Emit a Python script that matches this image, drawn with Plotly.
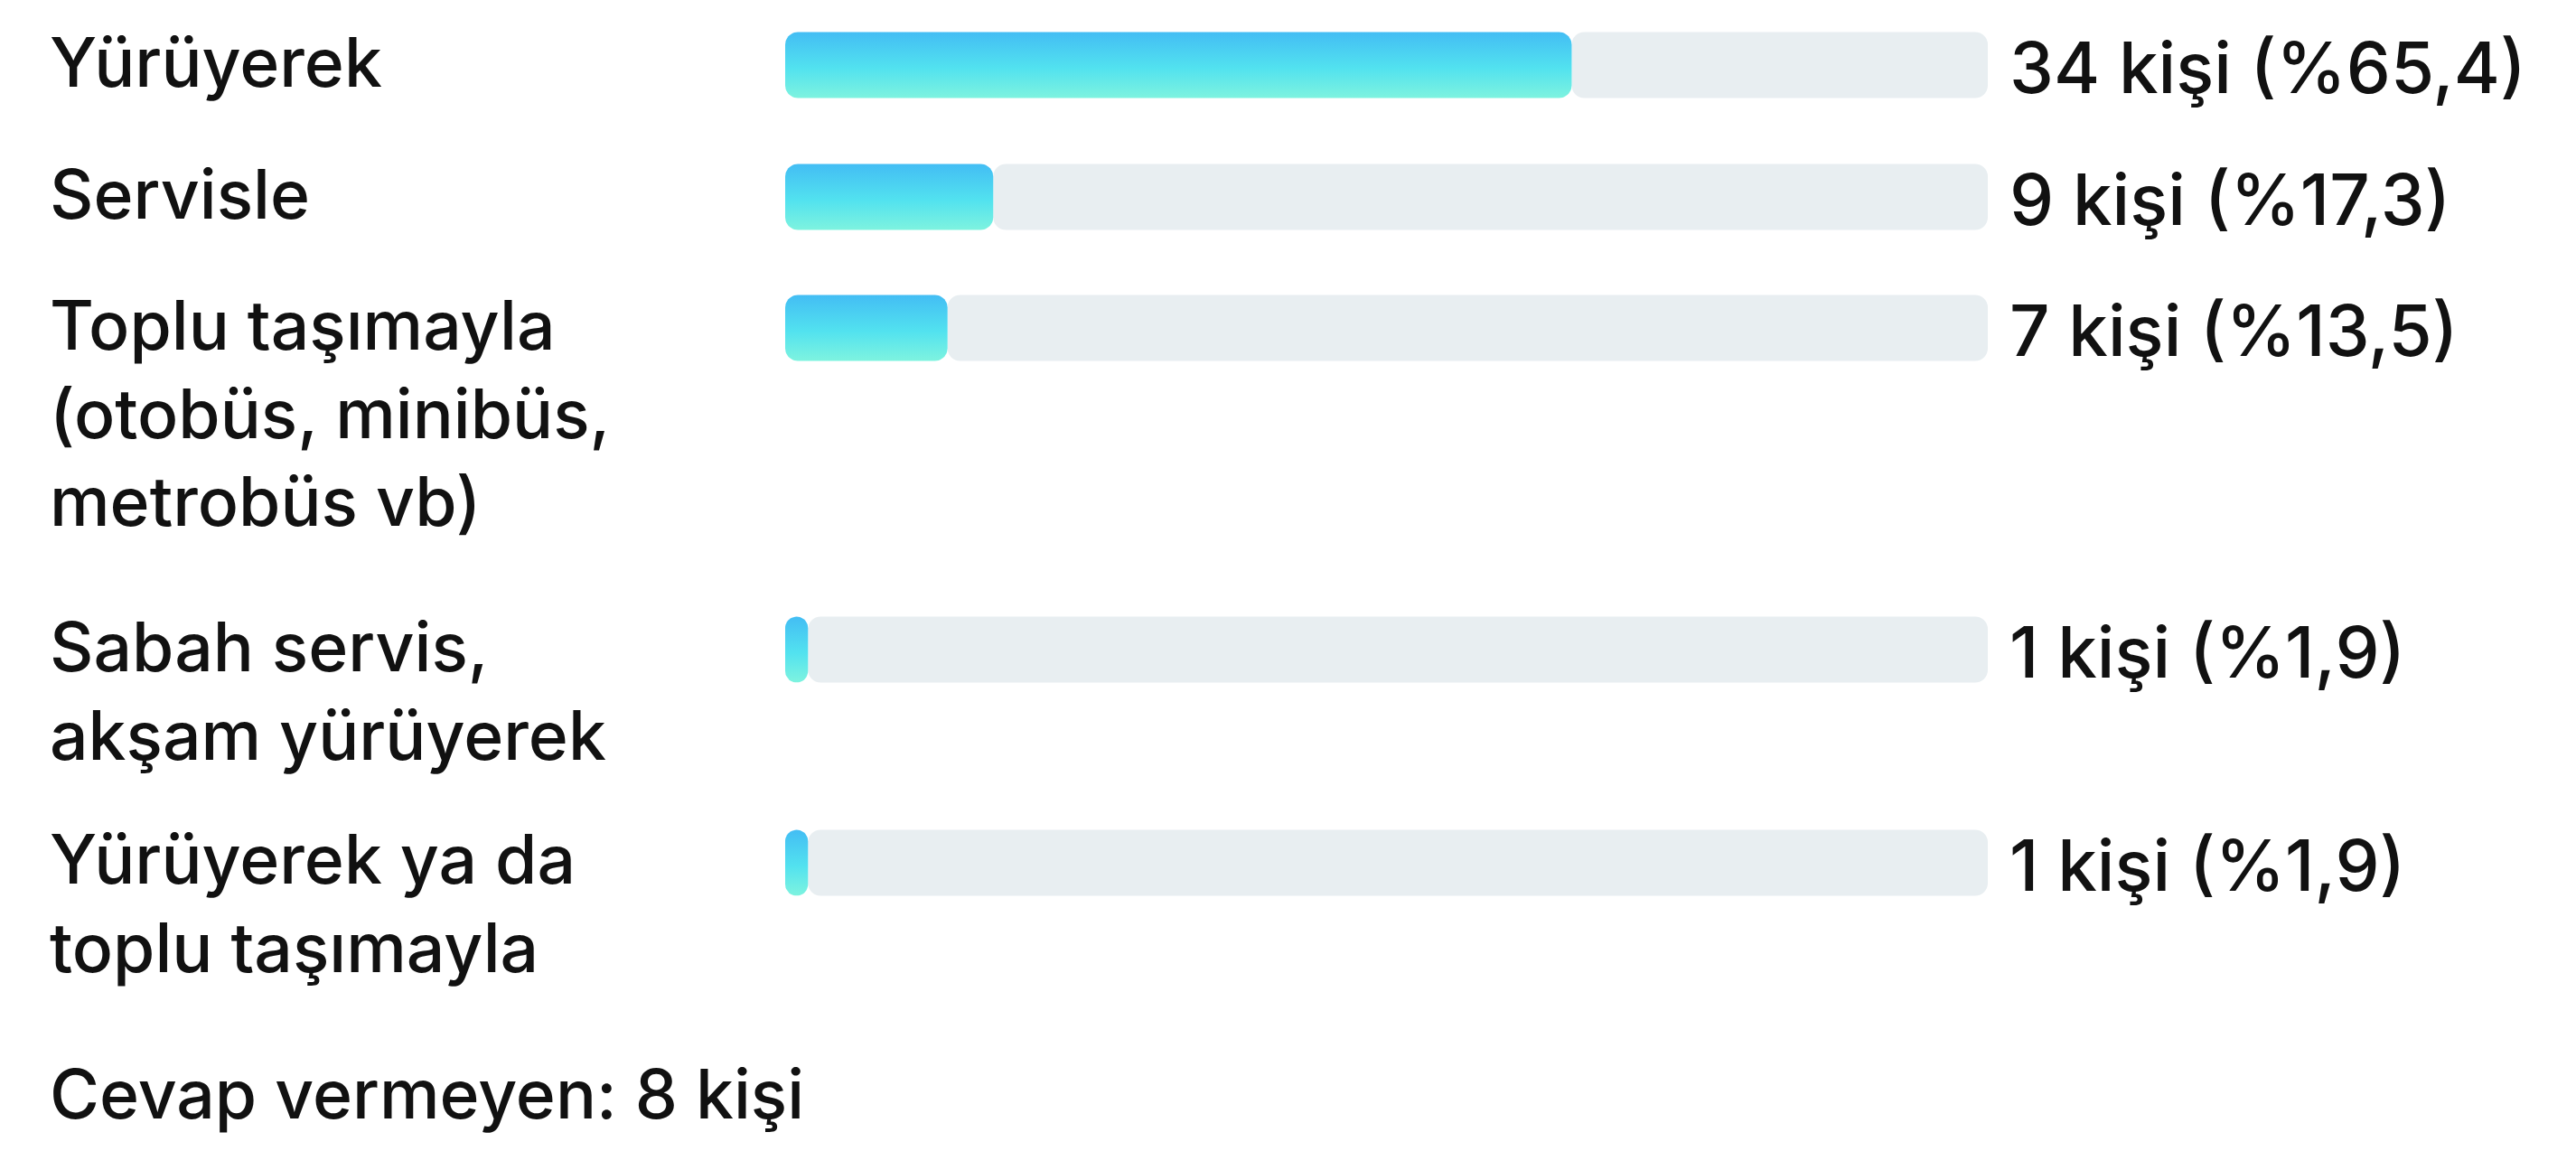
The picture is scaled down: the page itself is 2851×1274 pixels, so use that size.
import numpy as np
import plotly.graph_objects as go

# Survey answers: how respondents travel
categories = [
    "Yürüyerek",
    "Servisle",
    "Toplu taşımayla<br>(otobüs, minibüs,<br>metrobüs vb)",
    "Sabah servis,<br>akşam yürüyerek",
    "Yürüyerek ya da<br>toplu taşımayla",
]
counts = [34, 9, 7, 1, 1]
percents = [65.4, 17.3, 13.5, 1.9, 1.9]
no_answer = 8

# ---- layout constants (pixels) ----
W, H = 2851, 1274
PLOT_L, PLOT_R = 869, 2200          # x: 0..100 %
X_SCALE = (PLOT_R - PLOT_L) / 100.0  # px per percent
row_center_px = [72, 218, 363, 719, 955]
BAR_H = 73
RADIUS = 14
LABEL_X_PX = 53
VALUE_X_PX = 2222
FONT = "Inter"
TEXT_COLOR = "#111111"
TRACK_COLOR = "#E8EEF1"


def xpaper(px):
    return (px - PLOT_L) / (PLOT_R - PLOT_L)


def ypaper(px):
    return (H - px) / H


def ydata(px):
    return H - px


def rounded_rect(x1, yc, h, r_px):
    """Closed outline of a rounded bar from 0 to x1 (percent), centred on yc."""
    w_px = x1 * X_SCALE
    r = min(r_px, w_px / 2.0, h / 2.0)
    rx = r / X_SCALE
    ry = r
    top, bot = yc + h / 2.0, yc - h / 2.0
    xs, ys = [], []
    n = 12
    corners = [
        (x1 - rx, top - ry, 0.0, np.pi / 2),          # top-right
        (rx, top - ry, np.pi / 2, np.pi),             # top-left
        (rx, bot + ry, np.pi, 1.5 * np.pi),           # bottom-left
        (x1 - rx, bot + ry, 1.5 * np.pi, 2 * np.pi),  # bottom-right
    ]
    for cx, cy, a0, a1 in corners:
        t = np.linspace(a0, a1, n)
        xs.extend(cx + rx * np.cos(t))
        ys.extend(cy + ry * np.sin(t))
    xs.append(xs[0])
    ys.append(ys[0])
    return xs, ys


fig = go.Figure()

centers = [ydata(c) for c in row_center_px]

# grey remainder of each bar
fig.add_trace(go.Bar(
    orientation="h",
    y=centers,
    x=[100 - p for p in percents],
    base=percents,
    width=BAR_H,
    marker=dict(color=TRACK_COLOR, cornerradius=RADIUS, line=dict(width=0)),
    hoverinfo="skip",
    showlegend=False,
))

# gradient-filled value bars
for p, yc in zip(percents, centers):
    xs, ys = rounded_rect(p, yc, BAR_H, RADIUS)
    fig.add_trace(go.Scatter(
        x=xs, y=ys,
        mode="lines",
        line=dict(width=0, color="rgba(0,0,0,0)"),
        fill="toself",
        fillgradient=dict(
            type="vertical",
            start=yc - BAR_H / 2.0,
            stop=yc + BAR_H / 2.0,
            colorscale=[[0, "#7EF3DF"], [0.45, "#52E2EF"], [1, "#43BDF4"]],
        ),
        hoverinfo="skip",
        showlegend=False,
    ))

label_font = dict(family=FONT, size=75, color=TEXT_COLOR, weight=500)
value_font = dict(family=FONT, size=78, color=TEXT_COLOR, weight=500)

annotations = []
for cat, c, p, ypx in zip(categories, counts, percents, row_center_px):
    bar_top = ypx - BAR_H / 2.0
    annotations.append(dict(
        x=xpaper(LABEL_X_PX), y=ypaper(bar_top - 15),
        xref="paper", yref="paper", xanchor="left", yanchor="top",
        text=cat, showarrow=False, align="left",
        font=label_font,
    ))
    value_text = f"{c} kişi (%{p:.1f})".replace(".", ",")
    annotations.append(dict(
        x=xpaper(VALUE_X_PX), y=ypaper(ypx + 2),
        xref="paper", yref="paper", xanchor="left", yanchor="middle",
        text=value_text, showarrow=False, align="left",
        font=value_font,
    ))

annotations.append(dict(
    x=xpaper(LABEL_X_PX), y=ypaper(1163),
    xref="paper", yref="paper", xanchor="left", yanchor="top",
    text=f"Cevap vermeyen: {no_answer} kişi", showarrow=False, align="left",
    font=label_font,
))

fig.update_layout(
    width=W, height=H,
    margin=dict(l=PLOT_L, r=W - PLOT_R, t=0, b=0, pad=0),
    paper_bgcolor="white",
    plot_bgcolor="white",
    annotations=annotations,
    barmode="overlay",
    xaxis=dict(range=[0, 100], visible=False, fixedrange=True),
    yaxis=dict(range=[0, H], visible=False, fixedrange=True),
    showlegend=False,
)

fig.write_html("out.html", config={"displayModeBar": False})
